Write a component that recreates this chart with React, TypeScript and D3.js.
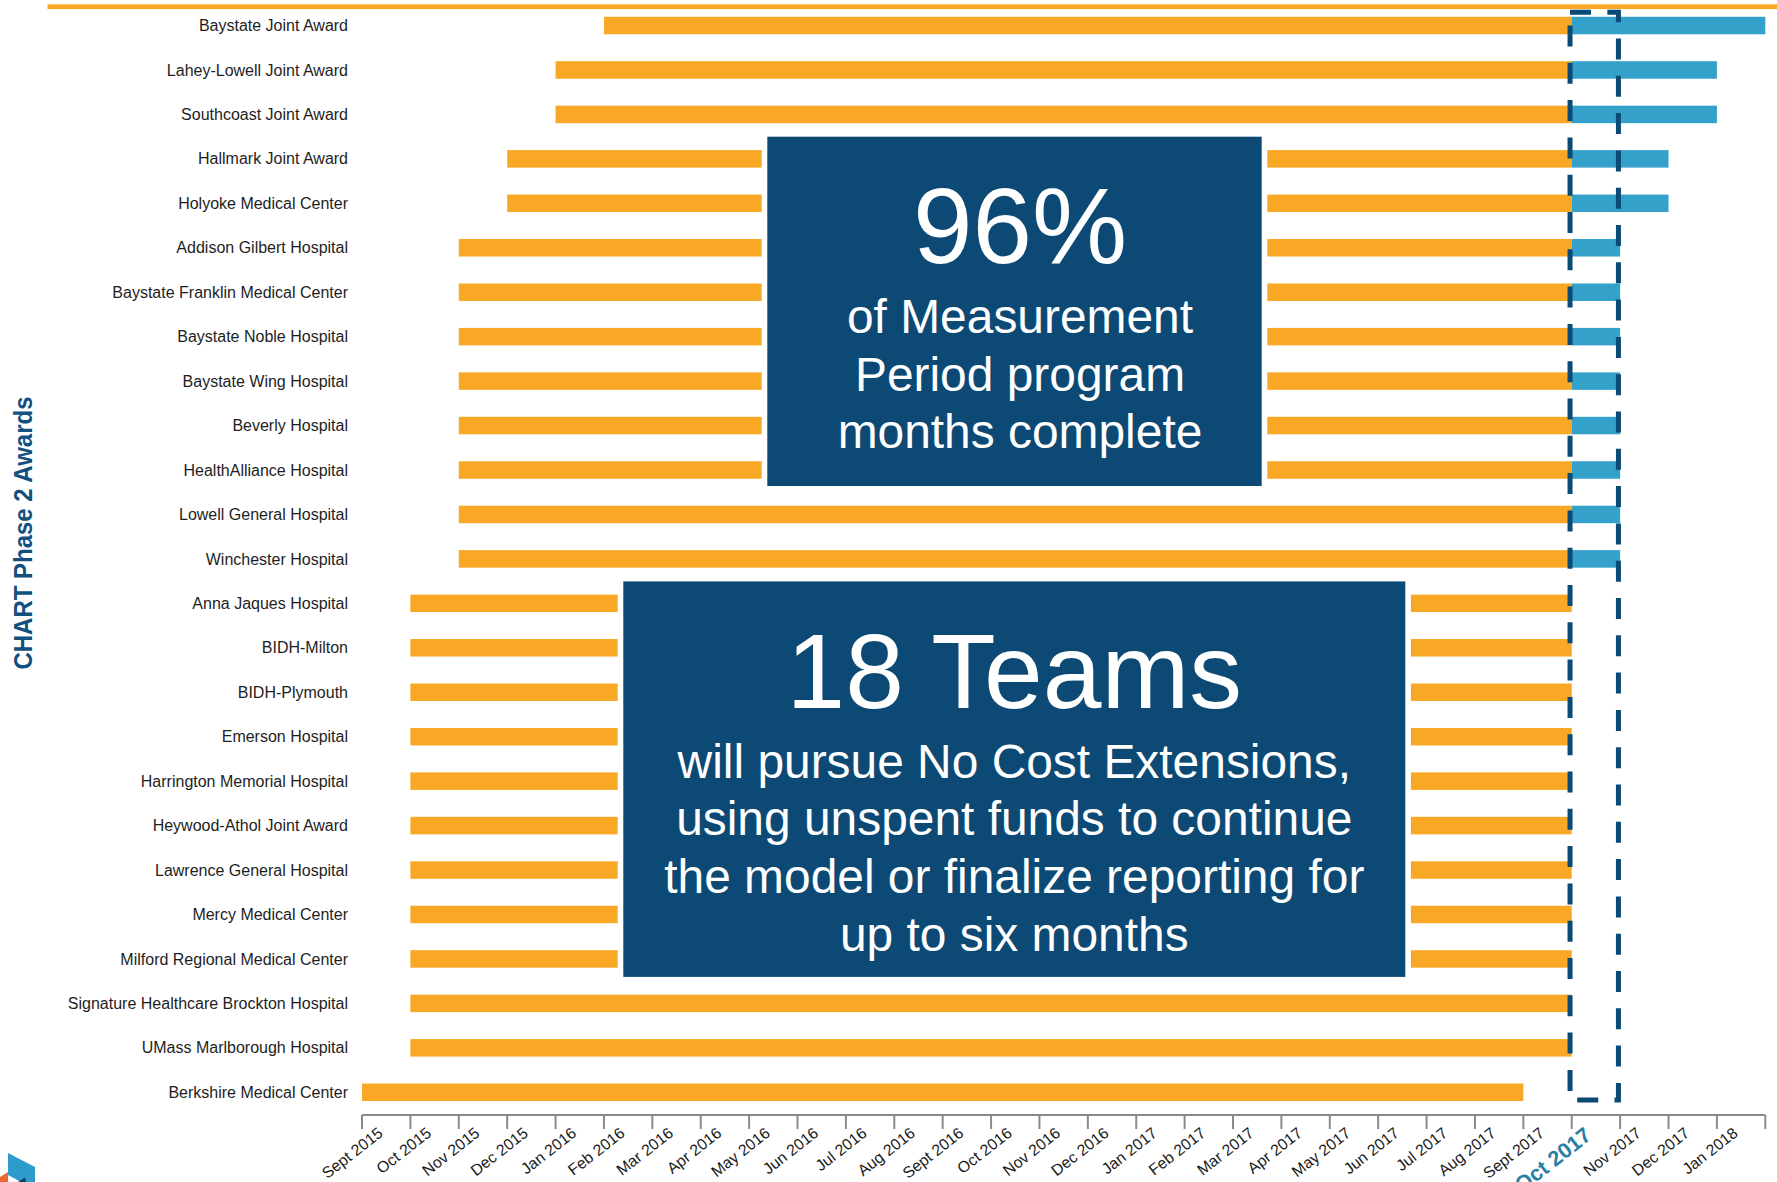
import React from "react";
import * as d3 from "d3";

const hospitals = [
  "Baystate Joint Award",
  "Lahey-Lowell Joint Award",
  "Southcoast Joint Award",
  "Hallmark Joint Award",
  "Holyoke Medical Center",
  "Addison Gilbert Hospital",
  "Baystate Franklin Medical Center",
  "Baystate Noble Hospital",
  "Baystate Wing Hospital",
  "Beverly Hospital",
  "HealthAlliance Hospital",
  "Lowell General Hospital",
  "Winchester Hospital",
  "Anna Jaques Hospital",
  "BIDH-Milton",
  "BIDH-Plymouth",
  "Emerson Hospital",
  "Harrington Memorial Hospital",
  "Heywood-Athol Joint Award",
  "Lawrence General Hospital",
  "Mercy Medical Center",
  "Milford Regional Medical Center",
  "Signature Healthcare Brockton Hospital",
  "UMass Marlborough Hospital",
  "Berkshire Medical Center",
];

// month index: 0 = Sept 2015
const startMonth = [5, 4, 4, 3, 3, 2, 2, 2, 2, 2, 2, 2, 2, 1, 1, 1, 1, 1, 1, 1, 1, 1, 1, 1, 0];
const measurementEnd = [25, 25, 25, 25, 25, 25, 25, 25, 25, 25, 25, 25, 25, 25, 25, 25, 25, 25, 25, 25, 25, 25, 25, 25, 24];
const extensionEnd: (number | null)[] = [29, 28, 28, 27, 27, 26, 26, 26, 26, 26, 26, 26, 26, null, null, null, null, null, null, null, null, null, null, null, null];

const monthLabels = [
  "Sept 2015", "Oct 2015", "Nov 2015", "Dec 2015",
  "Jan 2016", "Feb 2016", "Mar 2016", "Apr 2016", "May 2016", "Jun 2016", "Jul 2016", "Aug 2016",
  "Sept 2016", "Oct 2016", "Nov 2016", "Dec 2016",
  "Jan 2017", "Feb 2017", "Mar 2017", "Apr 2017", "May 2017", "Jun 2017", "Jul 2017", "Aug 2017",
  "Sept 2017", "Oct 2017", "Nov 2017", "Dec 2017", "Jan 2018",
];
const highlightMonth = "Oct 2017";
const currentMonthIndex = 25;

const axisTitle = "CHART Phase 2 Awards";
const box1Headline = "96%";
const box1Lines = ["of Measurement", "Period program", "months complete"];
const box2Headline = "18 Teams";
const box2Lines = [
  "will pursue No Cost Extensions,",
  "using unspent funds to continue",
  "the model or finalize reporting for",
  "up to six months",
];

const ORANGE = "#F9A825";
const BLUE = "#33A1C9";
const NAVY = "#0C4A75";
const DASH = "#0B4A74";
const FONT = "'Liberation Sans', Arial, Helvetica, sans-serif";

export default function App() {
  const W = 1777;
  const H = 1182;
  const x = d3.scaleLinear().domain([0, monthLabels.length]).range([362, 1765.3]);
  const y = d3.scalePoint<string>().domain(hospitals).range([3.3, 1114.5]).padding(0.5);
  const barH = 17.5;
  const axisY = 1115;
  const ticks = d3.range(0, monthLabels.length + 1);

  const boxes = [
    { x0: 767.3, x1: 1261.7, y0: 136.7, y1: 486, headline: box1Headline, lines: box1Lines, dx: 5.5, headSize: 107 },
    { x0: 623.3, x1: 1405.3, y0: 581.4, y1: 976.9, headline: box2Headline, lines: box2Lines, dx: 0, headSize: 105.5 },
  ];

  const dashX0 = x(currentMonthIndex) - 1.7;
  const dashX1 = x(currentMonthIndex + 1) - 1.7;

  return (
    <svg
      width={W}
      height={H}
      viewBox={`0 0 ${W} ${H}`}
      style={{ position: "absolute", left: 0, top: 0, display: "block", background: "#fff" }}
      fontFamily={FONT}
    >
      <rect x={0} y={0} width={W} height={H} fill="#fff" />
      {/* top rule */}
      <rect x={47.5} y={4.3} width={W - 47.5} height={4.8} fill={ORANGE} />

      {/* bars */}
      {hospitals.map((h, i) => {
        const cy = y(h)!;
        const ext = extensionEnd[i];
        return (
          <g key={h}>
            <rect
              x={x(startMonth[i])}
              y={cy - barH / 2}
              width={x(measurementEnd[i]) - x(startMonth[i])}
              height={barH}
              fill={ORANGE}
            />
            {ext != null && (
              <rect
                x={x(measurementEnd[i])}
                y={cy - barH / 2}
                width={x(ext) - x(measurementEnd[i])}
                height={barH}
                fill={BLUE}
              />
            )}
            <text
              x={348}
              y={cy}
              dy="0.35em"
              textAnchor="end"
              fontSize={16}
              fill="#1e1e1e"
            >
              {h}
            </text>
          </g>
        );
      })}

      {/* annotation boxes */}
      {boxes.map((b, k) => {
        const cx = (b.x0 + b.x1) / 2 + b.dx;
        const headBase = b.y0 + 126.7;
        return (
          <g key={k}>
            <rect x={b.x0 - 5.6} y={b.y0 - 5.6} width={b.x1 - b.x0 + 11.2} height={b.y1 - b.y0 + 11.2} fill="#fff" />
            <rect x={b.x0} y={b.y0} width={b.x1 - b.x0} height={b.y1 - b.y0} fill={NAVY} />
            <text x={cx} y={headBase} textAnchor="middle" fill="#fff" fontSize={b.headSize}>
              {b.headline}
            </text>
            {b.lines.map((l, j) => (
              <text key={j} x={cx} y={headBase + 69.4 + j * 57.8} textAnchor="middle" fill="#fff" fontSize={47.9}>
                {l}
              </text>
            ))}
          </g>
        );
      })}

      {/* dashed current-period frame */}
      <rect
        x={dashX0}
        y={12.3}
        width={dashX1 - dashX0}
        height={1100 - 12.3}
        fill="none"
        stroke={DASH}
        strokeWidth={5}
        strokeDasharray="21 16.3"
      />

      {/* x axis */}
      <line x1={x(0)} x2={x(monthLabels.length)} y1={axisY} y2={axisY} stroke="#8a8a8a" strokeWidth={2} />
      {ticks.map((t) => (
        <line key={t} x1={x(t)} x2={x(t)} y1={axisY} y2={axisY + 14} stroke="#8a8a8a" strokeWidth={2} />
      ))}
      {monthLabels.map((m, i) => {
        const hl = m === highlightMonth;
        const ax = x(i) + (hl ? 21 : 22);
        const ay = hl ? 1138 : 1135;
        return (
          <text
            key={m}
            transform={`translate(${ax},${ay}) rotate(-38)`}
            textAnchor="end"
            fontSize={hl ? 21.5 : 15.8}
            fontWeight={hl ? "bold" : "normal"}
            fill={hl ? "#2A7FA4" : "#1a1a1a"}
          >
            {m}
          </text>
        );
      })}

      {/* y axis title */}
      <text
        transform="translate(32,533) rotate(-90)"
        textAnchor="middle"
        fontSize={26}
        fontWeight="bold"
        fill="#12507F"
        textLength={273}
        lengthAdjust="spacingAndGlyphs"
      >
        {axisTitle}
      </text>

      {/* logo fragment */}
      <polygon points="8,1153 35,1167 35,1182 21,1182 8,1175" fill="#2E9CCB" />
      <polygon points="0,1177 8,1172 8,1182 0,1182" fill="#EE6A2C" />
      <polygon points="18,1182 25,1177.5 26,1182" fill="#0C3F63" />
    </svg>
  );
}
